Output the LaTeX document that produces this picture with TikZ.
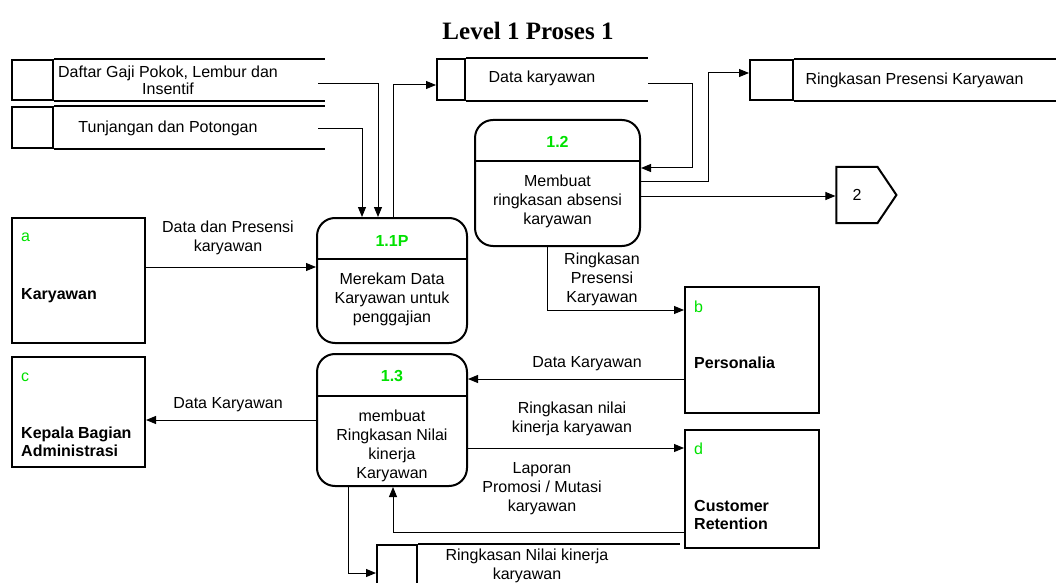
\documentclass[tikz,border=0pt]{standalone}
\usepackage{fontspec}
\setmainfont{Liberation Sans}
\newfontfamily\titlefont{Liberation Serif}
\definecolor{idgreen}{RGB}{0,225,0}
\usetikzlibrary{positioning, arrows.meta, shapes.symbols}
\newcommand{\dfdfont}{\fontsize{16}{19}\selectfont}
\newcommand{\entfont}{\fontsize{16}{18}\selectfont\bfseries}
\newcommand{\storefont}{\fontsize{16}{17}\selectfont}

\begin{document}
\begin{tikzpicture}[x=1pt, y=-1pt,
    entity/.style = {draw, line width=2pt, minimum width=133, inner sep=0},
    entid/.style = {anchor=west, inner sep=0, text=idgreen, font=\dfdfont},
    entname/.style = {anchor=north west, inner sep=0, align=left, font=\entfont},
    proc/.style = {draw, line width=2pt, rounded corners=18pt, minimum width=150},
    procid/.style = {inner sep=0, text=idgreen, font=\dfdfont\bfseries},
    proctext/.style = {anchor=north, inner sep=0, align=center, font=\dfdfont},
    procline/.style = {line width=2pt},
    storeid/.style = {draw, line width=2pt, inner sep=0, minimum height=40},
    storeline/.style = {line width=2pt},
    storetext/.style = {inner sep=0, align=center, font=\storefont},
    flow/.style = {line width=1pt, -{Triangle[length=10pt,width=8pt]}},
    flowtext/.style = {inner sep=0, align=center, font=\dfdfont},
    offpage/.style = {draw, line width=2pt, signal, signal to=east,
      signal pointer angle=112, minimum width=60, minimum height=56,
      inner sep=0, font=\dfdfont},
  ]
\useasboundingbox (0,0) rectangle (1058,583);

\node[font=\titlefont\bfseries\fontsize{25}{30}\selectfont] (title) at (528,31)
  {Level 1 Proses 1};

% external entities
\node[entity, minimum height=125] (kary) at (78.5,280.5) {};
\node[entity, minimum height=110] (kepala) at (78.5,412) {};
\node[entity, minimum width=134, minimum height=126] (pers) at (752,350) {};
\node[entity, minimum width=134, minimum height=118] (cust) at (752,489) {};

\node[entid] (ida) at ([xshift=10pt,yshift=-20pt]kary.north west) {a};
\node[entid] (idc) at ([xshift=10pt,yshift=-21pt]kepala.north west) {c};
\node[entid] (idb) at ([xshift=10pt,yshift=-21pt]pers.north west) {b};
\node[entid] (idd) at ([xshift=10pt,yshift=-20pt]cust.north west) {d};

\node[entname] (nkary) at ([xshift=10pt,yshift=-71pt]kary.north west) {Karyawan};
\node[entname] (nkepala) at ([xshift=10pt,yshift=-71pt]kepala.north west)
  {Kepala Bagian\\Administrasi};
\node[entname] (npers) at ([xshift=10pt,yshift=-71pt]pers.north west) {Personalia};
\node[entname] (ncust) at ([xshift=10pt,yshift=-71pt]cust.north west)
  {Customer\\Retention};

% processes
\node[proc, minimum height=125] (p11) at (392,280.5) {};
\node[proc, minimum width=165, minimum height=126] (p12) at (557.5,183) {};
\node[proc, minimum height=132] (p13) at (392,420) {};

\foreach \p/\d in {p11/42, p12/42, p13/43}
  \draw[procline] ([yshift=-\d pt]\p.north west) -- ([yshift=-\d pt]\p.north east);

\node[procid] (n11) at ([yshift=-23.5pt]p11.north) {1.1P};
\node[procid] (n12) at ([yshift=-23pt]p12.north) {1.2};
\node[procid] (n13) at ([yshift=-23.5pt]p13.north) {1.3};

\node[proctext] (t11) at ([yshift=-56pt]p11.north)
  {Merekam Data\\Karyawan untuk\\penggajian};
\node[proctext] (t12) at ([yshift=-56pt]p12.north)
  {Membuat\\ringkasan absensi\\karyawan};
\node[proctext] (t13) at ([yshift=-57pt]p13.north)
  {membuat\\Ringkasan Nilai\\kinerja\\Karyawan};

% data stores
\node[storeid, minimum width=41] (dgaji) at (32.5,80) {};
\node[storeid, minimum width=41, minimum height=41] (dtunj) at (32.5,127.5) {};
\node[storeid, minimum width=28, minimum height=41] (dkary) at (451,79.5) {};
\node[storeid, minimum width=43] (dpres) at (771.5,80) {};
\node[storeid, minimum width=40, minimum height=41] (dnilai) at (397,565.5) {};

\coordinate (dgaji-end) at (325,80);
\coordinate (dtunj-end) at (325,127.5);
\coordinate (dkary-end) at (648,79.5);
\coordinate (dpres-end) at (1056,80);
\coordinate (dnilai-end) at (680,565.5);

\foreach \s in {dgaji, dtunj, dkary, dpres, dnilai}
  \draw[storeline] (\s.north east) -- (\s.north east -| \s-end)
                   (\s.south east) -- (\s.south east -| \s-end);

\node[storetext] (tgaji) at (168,80) {Daftar Gaji Pokok, Lembur dan\\Insentif};
\node[storetext] (ttunj) at (168,128) {Tunjangan dan Potongan};
\node[storetext] (tkary) at (542,78) {Data karyawan};
\node[storetext] (tpres) at (914.5,80) {Ringkasan Presensi Karyawan};
\node[flowtext] (tnilai) at (527,566) {Ringkasan Nilai kinerja\\karyawan};

% off-page connector
\node[offpage] (pg2) at (857,195) {2};

% data flows
\draw[flow] ([xshift=-7pt,yshift=-4pt]dgaji-end) -| ([xshift=-14pt]p11.north);
\draw[flow] ([xshift=-7pt,yshift=-1.5pt]dtunj-end) -| ([xshift=-30pt]p11.north);
\draw[flow] ([xshift=1pt]p11.north) |- ([yshift=-5.5pt]dkary.west);
\draw[flow] ([yshift=-4pt]dkary-end) -- ++(44,0) |- ([yshift=15pt]p12.east);
\draw[flow] ([yshift=1pt]p12.east) -- ++(67,0) |- ([yshift=7pt]dpres.west);
\draw[flow] ([yshift=-13pt]p12.east) -- ([yshift=-13pt]p12.east -| pg2.west);
\draw[flow] ([xshift=-10pt]p12.south) |- ([yshift=40pt]pers.west);
\draw[flow] ([yshift=13.5pt]kary.east) -- ([yshift=13.5pt]kary.east -| p11.west);
\draw[flow] ([yshift=-29pt]pers.west) -- ([yshift=-29pt]pers.west -| p13.east);
\draw[flow] (p13.west) -- (p13.west -| kepala.east);
\draw[flow] ([yshift=-28pt]p13.east) -- ([yshift=-28pt]p13.east -| cust.west);
\draw[flow] ([yshift=-43pt]cust.west) -| ([xshift=1pt]p13.south);
\draw[flow] ([xshift=-44pt]p13.south) |- ([yshift=-7.5pt]dnilai.west);

\node[flowtext] (lkary) at (228,238) {Data dan Presensi\\karyawan};
\node[flowtext] (lpres) at (602,279) {Ringkasan\\Presensi\\Karyawan};
\node[flowtext] (lpers) at (587,364) {Data Karyawan};
\node[flowtext] (lkepala) at (228,405) {Data Karyawan};
\node[flowtext] (lnilai) at (572,418.5) {Ringkasan nilai\\kinerja karyawan};
\node[flowtext] (lcust) at (542,489) {Laporan\\Promosi / Mutasi\\karyawan};
\end{tikzpicture}
\end{document}
